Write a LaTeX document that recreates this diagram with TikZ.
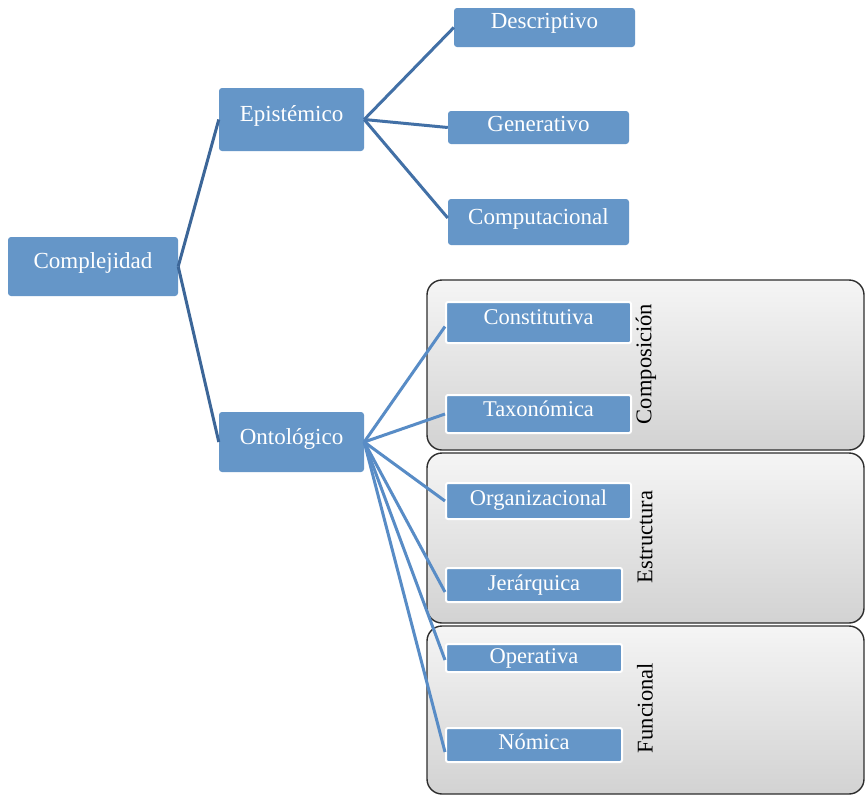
\documentclass[tikz,border=0pt]{standalone}
\usepackage{fontspec}
\setmainfont{Liberation Serif}
\definecolor{boxblue}{RGB}{101,150,200}
\definecolor{lineA}{RGB}{60,102,152}
\definecolor{lineB}{RGB}{66,112,166}
\definecolor{lineC}{RGB}{88,140,198}
\definecolor{grpdraw}{RGB}{45,45,45}
\begin{document}
\begin{tikzpicture}[x=1pt,y=-1pt,
  mainbox/.style={fill=boxblue, rounded corners=3pt, text=white, inner sep=0pt,
    font=\fontsize{23}{27}\selectfont, text height=16pt, text depth=12pt},
  subbox/.style={fill=boxblue, draw=white, line width=2pt, rounded corners=2pt, text=white, inner sep=0pt,
    font=\fontsize{22.5}{26}\selectfont, text height=16pt, text depth=12pt},
  lowbox/.style={subbox, text depth=6pt},
  grpbox/.style={draw=grpdraw, line width=1.4pt, rounded corners=15pt, top color=gray!8, bottom color=gray!35},
  grplabel/.style={rotate=90, inner sep=0pt, font=\fontsize{22.5}{26}\selectfont, text=black},
  linkA/.style={draw=lineA, line width=3pt},
  linkB/.style={draw=lineB, line width=3pt},
  linkC/.style={draw=lineC, line width=3pt}]
\useasboundingbox (0,0) rectangle (865,796);
\fill[white] (0,0) rectangle (865,796);

% group boxes
\draw[grpbox] (427,280) rectangle (864,450);
\draw[grpbox] (427,453) rectangle (864,623);
\draw[grpbox] (427,626) rectangle (864,794);
\node[grplabel] (lcomp) at (646,364) {Composición};
\node[grplabel] (lestr) at (645,537) {Estructura};
\node[grplabel] (lfunc) at (645,708) {Funcional};

% main nodes
\node[mainbox, minimum width=170pt, minimum height=59pt] (comp) at (93,266.5) {Complejidad};
\node[mainbox, minimum width=145pt, minimum height=63pt] (epi) at (291.5,119.5) {Epistémico};
\node[mainbox, minimum width=145pt, minimum height=60pt] (onto) at (291.5,442) {Ontológico};

\node[mainbox, minimum width=181pt, minimum height=39pt, text depth=14pt] (desc) at (544.5,27.5) {Descriptivo};
\node[mainbox, minimum width=181pt, minimum height=33pt, text depth=9pt] (gen) at (538.5,127.5) {Generativo};
\node[mainbox, minimum width=181pt, minimum height=46pt] (compu) at (538.5,222) {Computacional};

% connectors
\draw[linkA] (comp.east) -- (epi.west);
\draw[linkA] (comp.east) -- (onto.west);
\draw[linkB] (epi.east) -- (desc.west);
\draw[linkB] (epi.east) -- (gen.west);
\draw[linkB] (epi.east) -- ([yshift=4pt]compu.west);

% sub nodes
\node[subbox, minimum width=185pt, minimum height=41pt, text depth=13pt] (cons) at (538.5,322.5) {Constitutiva};
\node[subbox, minimum width=185pt, minimum height=38pt, text depth=11pt] (tax) at (538.5,414) {Taxonómica};
\node[subbox, minimum width=185pt, minimum height=36pt, text depth=8pt] (org) at (538.5,501) {Organizacional};
\node[lowbox, minimum width=176pt, minimum height=34pt, text depth=5pt] (jer) at (534,585) {Jerárquica};
\node[lowbox, minimum width=176pt, minimum height=28pt, text depth=5pt] (oper) at (534,658) {Operativa};
\node[lowbox, minimum width=176pt, minimum height=34pt, text depth=7pt] (nom) at (534,745) {Nómica};

\draw[linkC] (onto.east) -- ([yshift=-4pt]cons.west);
\draw[linkC] (onto.east) -- (tax.west);
\draw[linkC] (onto.east) -- (org.west);
\draw[linkC] (onto.east) -- ([yshift=-7pt]jer.west);
\draw[linkC] (onto.east) -- ([yshift=-2pt]oper.west);
\draw[linkC] (onto.east) -- ([yshift=-7pt]nom.west);
\end{tikzpicture}
\end{document}
